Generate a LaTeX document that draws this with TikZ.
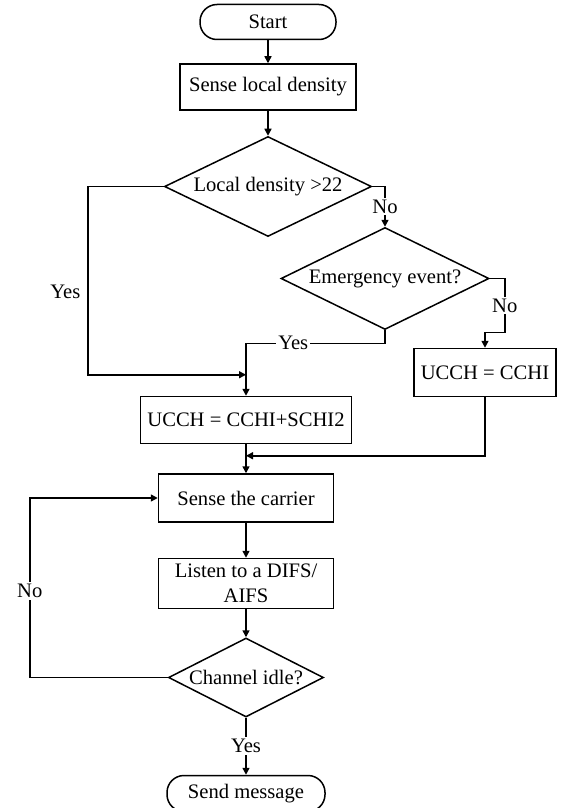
\documentclass[tikz,border=0pt]{standalone}
\usepackage{fontspec}
\setmainfont{Liberation Serif}
\usetikzlibrary{arrows.meta, positioning, shapes.geometric, calc}

\begin{document}
\begin{tikzpicture}[
  font=\fontsize{10.3}{12.5}\selectfont,
  arrow/.style={line width=0.75pt, -{Triangle[length=3.5pt,width=3.5pt]}},
  box/.style={
    draw,
    line width=0.75pt,
    rectangle,
    minimum height=23.5pt,
    align=center
  },
  terminal/.style={draw, line width=0.75pt, rectangle, rounded corners=8.5pt, minimum height=17.5pt},
  decision/.style={draw, line width=0.75pt, diamond, aspect=2, inner sep=0pt},
  answer/.style={fill=white, inner sep=1pt}
]

  \useasboundingbox (0,0) rectangle (281pt,-404pt);

  % main column down to the density test
  \node[terminal, minimum width=68pt] (start) at (134pt,-11pt) {Start};
  \node[box, minimum width=88pt, minimum height=23pt, below=11.5pt of start] (sense) {Sense local density};
  \node[decision, minimum width=103.5pt, minimum height=50pt, below=12.5pt of sense] (density) {Local density >22};

  % side branch
  \node[decision, minimum width=104pt, minimum height=51pt] (emergency) at ($(density)+(58.5pt,-46pt)$) {Emergency event?};
  \node[box, minimum width=70.5pt, minimum height=24pt] (cchi) at ($(emergency)+(50pt,-47pt)$) {UCCH = CCHI};

  % channel access part
  \node[box, minimum width=105pt] (both) at (123pt,-210pt) {UCCH = CCHI+SCHI2};
  \node[box, minimum width=87.5pt, minimum height=24pt, below=14.5pt of both] (carrier) {Sense the carrier};
  \node[box, minimum width=87.5pt, minimum height=25pt, inner sep=1pt, below=17.5pt of carrier] (listen) {Listen to a DIFS/\\AIFS};
  \node[decision, minimum width=77.5pt, minimum height=39.5pt, below=14pt of listen] (idle) {Channel idle?};
  \node[terminal, minimum width=79pt, minimum height=18pt, below=28.5pt of idle] (send) {Send message};

  \coordinate (merge) at ($(both.north)+(0,10.5pt)$);
  \coordinate (gather) at ($(both.south)+(0,-5.75pt)$);

  \draw[arrow] (start) -- (sense);
  \draw[arrow] (sense) -- (density);
  \draw[arrow] (density.east) -| node[answer, pos=0.75] {No} (emergency.north);
  \draw[arrow] (density.west) -- ++(-38pt,0) |- node[left, pos=0.28] {Yes} (merge);
  \draw[arrow] (emergency.east) -- ++(7.5pt,0) -- node[answer] {No} ++(0,-27pt) -| (cchi.north);
  \draw[arrow] (emergency.south) -- ++(0,-6.5pt) -| node[answer, pos=0.33] {Yes} (both.north);

  \draw[arrow] (both) -- (carrier);
  \draw[arrow] (cchi.south) |- (gather);
  \draw[arrow] (carrier) -- (listen);
  \draw[arrow] (listen) -- (idle);
  \draw[arrow] (idle.west) -- ++(-69pt,0) |- node[answer, pos=0.24] {No} (carrier.west);
  \draw[arrow] (idle) -- node[answer] {Yes} (send);

\end{tikzpicture}
\end{document}
